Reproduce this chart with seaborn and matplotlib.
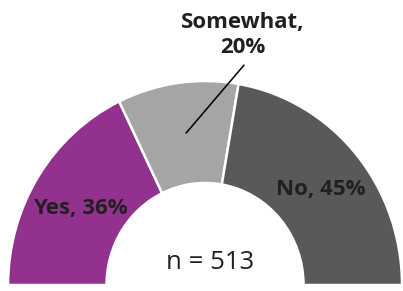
import matplotlib as mpl
import matplotlib.pyplot as plt
import seaborn as sns

sns.set_theme(style="white")
mpl.rcParams['font.family'] = ['Open Sans', 'DejaVu Sans']

# data
categories = ["Yes", "Somewhat", "No"]
shares = [36, 20, 45]
colors = ["#93318E", "#A5A5A5", "#595959"]
sample_n = 513

fig = plt.figure(figsize=(4.03, 2.91), dpi=100)
ax = fig.add_axes([0, 0, 1, 1])

# hidden bottom half so the visible wedges span 180 degrees
values = shares + [sum(shares)]
wedges, _ = ax.pie(
    values,
    colors=colors + ["white"],
    startangle=180,
    counterclock=False,
    radius=1.0,
    wedgeprops=dict(width=0.5, edgecolor="white", linewidth=1.8),
)
wedges[-1].set_visible(False)

ax.set_xlim(-1.041, 1.005)
ax.set_ylim(-0.0294, 1.397)
ax.set_aspect("auto")
ax.axis("off")

txt = "#231F20"
ax.text(-0.635, 0.377, f"{categories[0]}, {shares[0]}%", ha="center", va="center",
        fontsize=16, fontweight="bold", color=txt)
ax.text(0.589, 0.466, f"{categories[2]}, {shares[2]}%", ha="center", va="center",
        fontsize=16, fontweight="bold", color=txt)
ax.text(0.193, 1.225, f"{categories[1]},\n{shares[1]}%", ha="center", va="center",
        fontsize=16, fontweight="bold", color=txt, linespacing=1.3)
ax.plot([0.198, -0.096], [1.078, 0.745], color="black", lw=1.1)

ax.text(0.025, 0.108, f"n = {sample_n}", ha="center", va="center",
        fontsize=18.5, color=txt)

plt.savefig("out.png", dpi=100)
plt.close()
